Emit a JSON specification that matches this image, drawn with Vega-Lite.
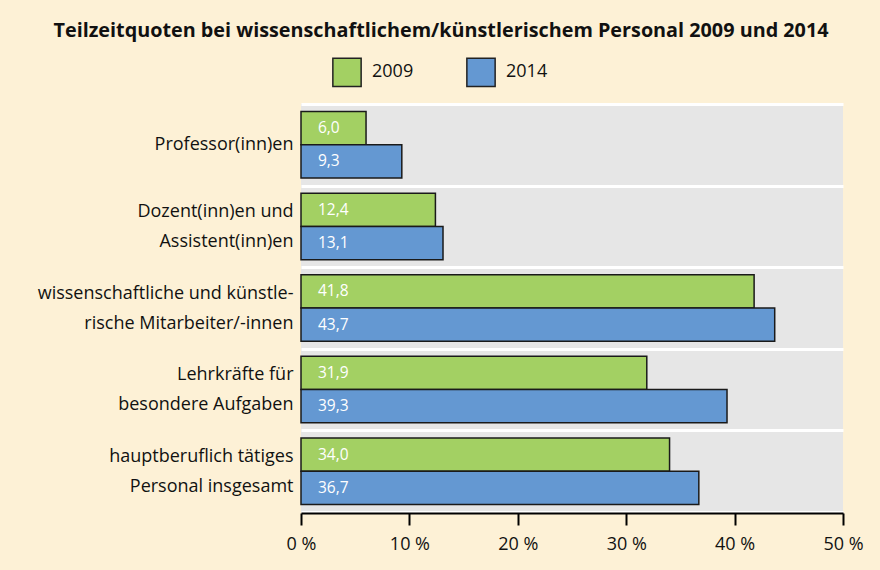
{
  "$schema": "https://vega.github.io/schema/vega-lite/v6.json",
  "autosize": {"type": "none"},
  "width": 542,
  "height": 408,
  "padding": {"left": 301, "top": 104, "right": 37, "bottom": 58},
  "background": "#fdf1d6",
  "config": {
    "locale": {"number": {"decimal": ",", "thousands": ".", "grouping": [3], "currency": ["", " €"]}},
    "font": "Open Sans",
    "view": {"fill": "#e6e6e6", "stroke": null}
  },
  "title": {
    "text": "Teilzeitquoten bei wissenschaftlichem/künstlerischem Personal 2009 und 2014",
    "font": "Open Sans",
    "fontSize": 19.8,
    "fontWeight": "bold",
    "color": "#111111",
    "anchor": "middle",
    "dx": -131,
    "offset": 16
  },
  "data": {
    "values": [
      {"gruppe": "Professor(inn)en", "jahr": "2009", "quote": 6.0},
      {"gruppe": "Professor(inn)en", "jahr": "2014", "quote": 9.3},
      {"gruppe": "Dozent(inn)en und|Assistent(inn)en", "jahr": "2009", "quote": 12.4},
      {"gruppe": "Dozent(inn)en und|Assistent(inn)en", "jahr": "2014", "quote": 13.1},
      {"gruppe": "wissenschaftliche und künstle-|rische Mitarbeiter/-innen", "jahr": "2009", "quote": 41.8},
      {"gruppe": "wissenschaftliche und künstle-|rische Mitarbeiter/-innen", "jahr": "2014", "quote": 43.7},
      {"gruppe": "Lehrkräfte für|besondere Aufgaben", "jahr": "2009", "quote": 31.9},
      {"gruppe": "Lehrkräfte für|besondere Aufgaben", "jahr": "2014", "quote": 39.3},
      {"gruppe": "hauptberuflich tätiges|Personal insgesamt", "jahr": "2009", "quote": 34.0},
      {"gruppe": "hauptberuflich tätiges|Personal insgesamt", "jahr": "2014", "quote": 36.7}
    ]
  },
  "encoding": {
    "y": {
      "field": "gruppe",
      "type": "nominal",
      "sort": null,
      "scale": {"paddingInner": 0, "paddingOuter": 0},
      "axis": {
        "title": null,
        "domain": false,
        "ticks": false,
        "grid": true,
        "gridColor": "#ffffff",
        "gridWidth": 3,
        "tickBand": "extent",
        "labelExpr": "split(datum.label, '|')",
        "labelLineHeight": 30,
        "labelOffset": {"condition": {"test": "indexof(datum.label, '|') >= 0", "value": -15}, "value": 0},
        "labelFontSize": 18,
        "labelLimit": 320,
        "labelColor": "#111111",
        "labelPadding": 8,
        "labelFont": "Open Sans"
      }
    },
    "yOffset": {"field": "jahr", "type": "nominal", "scale": {"paddingInner": 0, "paddingOuter": 0.227}},
    "x": {
      "field": "quote",
      "type": "quantitative",
      "scale": {"domain": [0, 50], "nice": false},
      "axis": {
        "title": null,
        "values": [0, 10, 20, 30, 40, 50],
        "labelExpr": "datum.value + ' %'",
        "labelFlush": false,
        "grid": false,
        "domainColor": "#000000",
        "domainWidth": 2,
        "tickColor": "#000000",
        "tickWidth": 2,
        "tickSize": 12,
        "labelFontSize": 18,
        "labelColor": "#111111",
        "labelPadding": 10,
        "labelFont": "Open Sans",
        "offset": 1
      }
    }
  },
  "layer": [
    {
      "mark": {"type": "bar", "stroke": "#1a1a1a", "strokeWidth": 1.5},
      "encoding": {
        "color": {
          "field": "jahr",
          "type": "nominal",
          "scale": {"domain": ["2009", "2014"], "range": ["#a3d063", "#6498d2"]},
          "legend": {
            "title": null,
            "orient": "none",
            "direction": "horizontal",
            "legendX": 31,
            "legendY": -47,
            "symbolType": "square",
            "symbolSize": 800,
            "symbolStrokeColor": "#222222",
            "symbolStrokeWidth": 1.5,
            "symbolOpacity": 1,
            "labelFontSize": 18,
            "labelColor": "#111111",
            "labelFont": "Open Sans",
            "labelOffset": 10,
            "columnPadding": 49
          }
        }
      }
    },
    {
      "mark": {"type": "text", "align": "left", "baseline": "middle", "dx": 17, "color": "#ffffff", "fontSize": 15.5, "font": "Open Sans"},
      "encoding": {
        "x": {"datum": 0},
        "text": {"field": "quote", "type": "quantitative", "format": ".1f"}
      }
    }
  ]
}
